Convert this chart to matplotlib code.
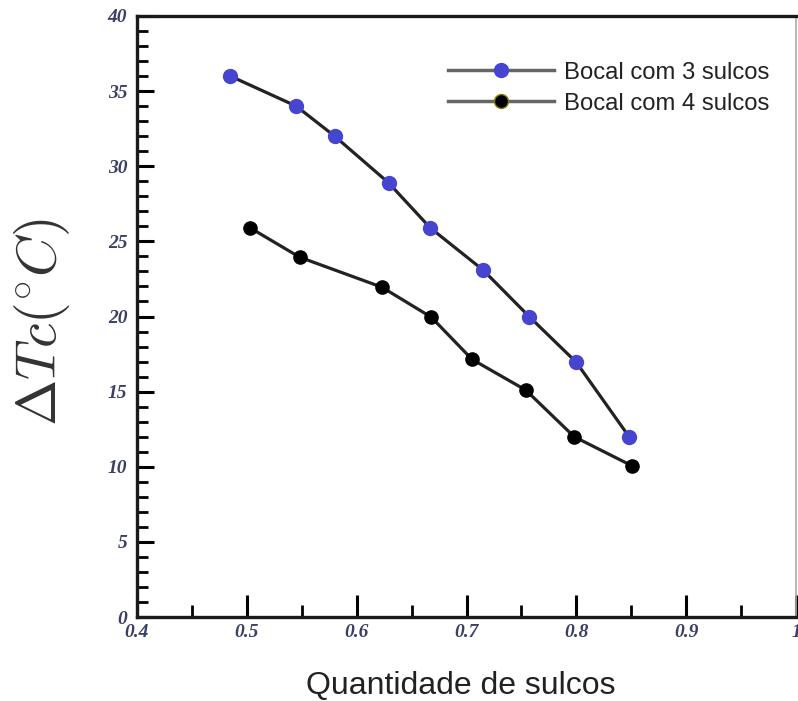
import matplotlib
matplotlib.use("Agg")
import matplotlib.pyplot as plt
from matplotlib.ticker import MultipleLocator

x3 = [0.485, 0.545, 0.580, 0.629, 0.667, 0.715, 0.757, 0.800, 0.848]
y3 = [36.0, 34.0, 32.0, 28.9, 25.9, 23.1, 20.0, 16.95, 12.0]
x4 = [0.503, 0.548, 0.623, 0.668, 0.705, 0.754, 0.798, 0.851]
y4 = [25.9, 23.95, 21.95, 19.95, 17.15, 15.1, 12.0, 10.05]
label3 = "Bocal com 3 sulcos"
label4 = "Bocal com 4 sulcos"

fig = plt.figure(figsize=(7.98, 7.01), dpi=100)
ax = fig.add_axes([137/798, 1-617/701, (796-137)/798, (617-16)/701])

ax.plot(x3, y3, '-', color='#222222', lw=2.3, marker='o', ms=10,
        mfc='#4545d0', mec='#4545d0', zorder=3)
ax.plot(x4, y4, '-', color='#222222', lw=2.3, marker='o', ms=9.5,
        mfc='black', mec='black', zorder=3)

# legend proxies
h3, = ax.plot([], [], '-', color='#666666', lw=2.5, marker='o', ms=10,
              mfc='#4545d0', mec='#4545d0')
h4, = ax.plot([], [], '-', color='#666666', lw=2.5, marker='o', ms=10,
              mfc='black', mec='#8a7a00')
leg = ax.legend([h3, h4], [label3, label4], loc='upper left',
                bbox_to_anchor=(0.44, 0.96), frameon=False,
                handlelength=4.4, handletextpad=0.42, labelspacing=0.38,
                markerfirst=True, prop={'family': 'Liberation Sans', 'size': 17.2})
for t in leg.get_texts():
    t.set_color('#222222')

ax.set_xlim(0.4, 0.997)
ax.set_ylim(0, 40)
ax.xaxis.set_major_locator(MultipleLocator(0.1))
ax.xaxis.set_minor_locator(MultipleLocator(0.05))
ax.yaxis.set_major_locator(MultipleLocator(5))
ax.yaxis.set_minor_locator(MultipleLocator(1))

ax.tick_params(axis='x', which='major', direction='in', length=16, width=2.2, pad=5)
ax.tick_params(axis='x', which='minor', direction='in', length=9, width=2.0)
ax.tick_params(axis='y', which='major', direction='in', length=12.5, width=2.2, pad=7)
ax.tick_params(axis='y', which='minor', direction='in', length=8, width=2.0)

for s in ['left', 'bottom', 'top']:
    ax.spines[s].set_linewidth(2.4)
    ax.spines[s].set_color('#1a1a1a')
ax.spines['right'].set_color('#aaaaaa')
ax.spines['right'].set_linewidth(1.2)

def fmt_x(v):
    return '%g' % round(v, 2)
xt = [0.4, 0.5, 0.6, 0.7, 0.8, 0.9, 1.0]
ax.set_xticks(xt)
ax.set_xticklabels([fmt_x(v) for v in xt])
yt = [0, 5, 10, 15, 20, 25, 30, 35, 40]
ax.set_yticks(yt)
ax.set_yticklabels([str(v) for v in yt])
for lab in ax.get_xticklabels() + ax.get_yticklabels():
    lab.set_fontfamily('Liberation Serif')
    lab.set_fontstyle('italic')
    lab.set_fontweight('bold')
    lab.set_fontsize(14)
    lab.set_color('#3a3f66')

fig.text(461/798, 1-686/701, "Quantidade de sulcos", ha='center', va='center',
         fontsize=23, family='Liberation Sans', color='#222222')
plt.rcParams['mathtext.fontset'] = 'cm'
fig.text(42/798, 1-322/701, r"$\Delta Tc(^{\circ}C)$", ha='center', va='center',
         rotation=90, fontsize=40, color='#333333')

fig.savefig("out.png", dpi=100)
